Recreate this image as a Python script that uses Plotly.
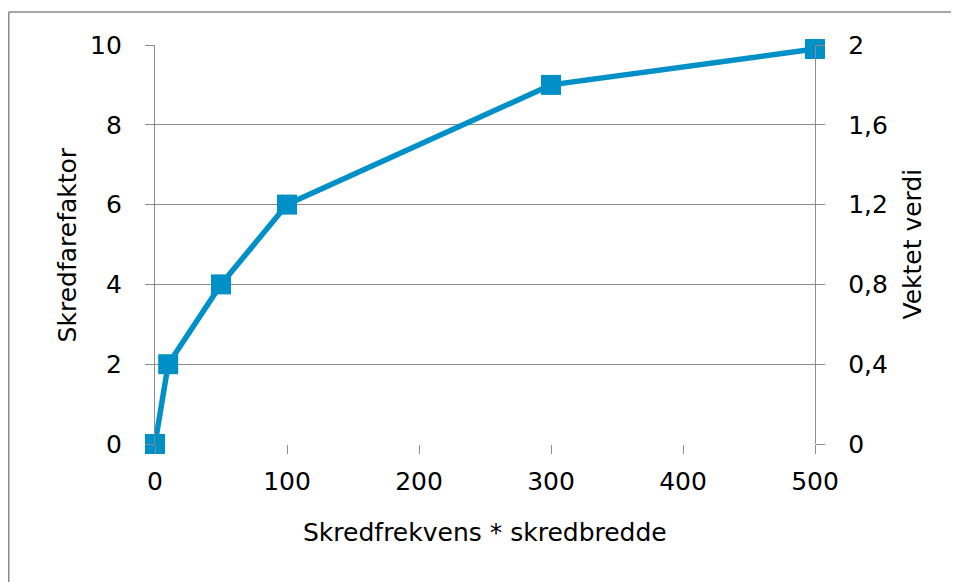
import plotly.graph_objects as go

x_vals = [0, 10, 50, 100, 300, 500]
y_vals = [0, 2, 4, 6, 9, 9.9]
x_ticks = [0, 100, 200, 300, 400, 500]
y_ticks = [0, 2, 4, 6, 8, 10]
y2_ticks = [0, 0.4, 0.8, 1.2, 1.6, 2]
y2_ticktext = ["0", "0,4", "0,8", "1,2", "1,6", "2"]

COLOR = "#0090C8"
GRID = "#8c8c8c"
FONT = dict(family="DejaVu Sans", size=25, color="black")

fig = go.Figure()
fig.add_trace(go.Scatter(
    x=x_vals, y=y_vals, mode="lines+markers",
    line=dict(color=COLOR, width=5.5),
    marker=dict(symbol="square", size=20, color=COLOR),
    showlegend=False, cliponaxis=False,
))
fig.add_trace(go.Scatter(
    x=x_vals, y=[v / 5 for v in y_vals], yaxis="y2", mode="lines",
    line=dict(width=0), opacity=0, showlegend=False, hoverinfo="skip",
))

FRAME = dict(color="#888888", width=1.5)
fig.update_layout(
    width=951, height=574,
    margin=dict(l=147, r=144, t=37, b=138),
    paper_bgcolor="white", plot_bgcolor="white",
    font=FONT,
    xaxis=dict(range=[0, 500], tickvals=x_ticks, showgrid=False, zeroline=False,
               showline=False, ticks="outside", ticklen=9, tickcolor=GRID, tickwidth=1.3,
               ticklabelstandoff=6),
    yaxis=dict(range=[0, 10], tickvals=y_ticks, showgrid=True, gridcolor=GRID, gridwidth=1.3,
               zeroline=False, showline=True, linecolor=GRID, linewidth=1.3,
               ticks="outside", ticklen=9, tickcolor=GRID, tickwidth=1.3,
               ticklabelstandoff=18),
    yaxis2=dict(range=[0, 2], tickvals=y2_ticks, ticktext=y2_ticktext, overlaying="y",
                side="right", showgrid=False, zeroline=False, showline=True,
                linecolor=GRID, linewidth=1.3, ticks="outside", ticklen=9,
                tickcolor=GRID, tickwidth=1.3, ticklabelstandoff=18),
    shapes=[
        dict(type="line", xref="paper", yref="paper",
             x0=-0.2216, x1=1.3, y0=1.0827, y1=1.0827, line=FRAME, layer="below"),
        dict(type="line", xref="paper", yref="paper",
             x0=-0.2216, x1=-0.2216, y0=-0.4, y1=1.0827, line=FRAME, layer="below"),
    ],
    annotations=[
        dict(text="Skredfrekvens * skredbredde", xref="paper", yref="paper",
             x=0.5, y=-0.223, showarrow=False, xanchor="center", yanchor="middle"),
        dict(text="Skredfarefaktor", xref="paper", yref="paper",
             x=-0.132, y=0.5, textangle=-90, showarrow=False,
             xanchor="center", yanchor="middle"),
        dict(text="Vektet verdi", xref="paper", yref="paper",
             x=1.147, y=0.5, textangle=-90, showarrow=False,
             xanchor="center", yanchor="middle"),
    ],
)

fig.write_html("out.html")
